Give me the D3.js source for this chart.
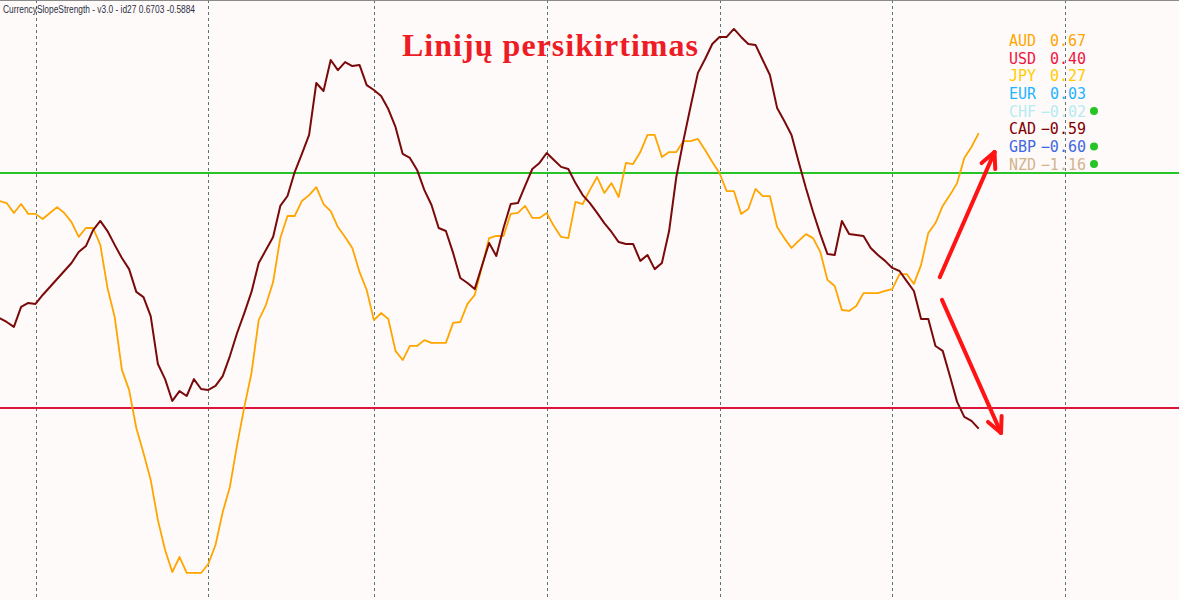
<!DOCTYPE html>
<html>
<head>
<meta charset="utf-8">
<script src="https://cdn.jsdelivr.net/npm/d3@7/dist/d3.min.js"></script>
<style>
html,body{margin:0;padding:0;background:#fffafa;}
svg{display:block;}
</style>
</head>
<body>
<svg id="chart" width="1179" height="600"></svg>
<script>
// ---------- DATA ----------
const headerText = "CurrencySlopeStrength - v3.0 - id27 0.6703 -0.5884";
const titleText = "Linijų persikirtimas";

// bar index of every point (H1 bars)
const bars = d3.range(137);

// AUD strength (orange line)
const aud = [0.381,0.372,0.330,0.368,0.326,0.326,0.304,0.330,0.355,0.330,
0.291,0.228,0.266,0.266,0.194,0.011,-0.113,-0.338,-0.423,-0.585,
-0.691,-0.806,-0.977,-1.104,-1.198,-1.134,-1.202,-1.202,-1.202,-1.164,
-1.083,-0.943,-0.836,-0.657,-0.496,-0.351,-0.126,-0.062,0.036,0.223,
0.317,0.317,0.381,0.406,0.440,0.368,0.338,0.270,0.228,0.181,
0.079,0.002,-0.126,-0.096,-0.121,-0.257,-0.296,-0.236,-0.236,-0.211,
-0.223,-0.223,-0.223,-0.138,-0.134,-0.057,-0.019,0.100,0.223,0.232,
0.232,0.326,0.330,0.360,0.309,0.309,0.330,0.274,0.228,0.223,
0.377,0.368,0.428,0.483,0.415,0.457,0.398,0.543,0.538,0.589,
0.662,0.662,0.568,0.589,0.589,0.636,0.636,0.645,0.598,0.547,
0.500,0.423,0.423,0.326,0.347,0.432,0.402,0.402,0.270,0.223,
0.181,0.211,0.240,0.223,0.164,0.045,0.019,-0.083,-0.087,-0.066,
-0.011,-0.011,-0.011,-0.002,0.006,0.070,0.070,0.028,0.109,0.245,
0.287,0.360,0.406,0.457,0.564,0.611,0.670];

// CAD strength (maroon line)
const cad = [-0.117,-0.134,-0.155,-0.070,-0.053,-0.057,-0.019,0.015,0.049,0.083,
0.117,0.164,0.189,0.257,0.296,0.253,0.194,0.138,0.091,-0.006,
-0.028,-0.109,-0.313,-0.377,-0.470,-0.428,-0.449,-0.377,-0.419,-0.423,
-0.406,-0.364,-0.279,-0.181,-0.096,-0.006,0.117,0.172,0.228,0.360,
0.402,0.504,0.581,0.662,0.883,0.849,0.981,0.938,0.972,0.955,
0.960,0.874,0.853,0.828,0.772,0.696,0.581,0.564,0.513,0.428,
0.364,0.266,0.253,0.160,0.053,0.032,0.006,0.104,0.202,0.147,
0.266,0.368,0.372,0.445,0.517,0.543,0.585,0.555,0.526,0.517,
0.457,0.406,0.372,0.330,0.287,0.249,0.206,0.198,0.198,0.126,
0.151,0.091,0.117,0.253,0.483,0.640,0.785,0.926,0.985,1.049,
1.079,1.079,1.113,1.079,1.049,1.045,0.981,0.917,0.777,0.721,
0.662,0.547,0.436,0.334,0.240,0.155,0.151,0.296,0.240,0.236,
0.232,0.181,0.151,0.126,0.096,0.083,0.040,-0.002,-0.121,-0.121,
-0.236,-0.257,-0.364,-0.474,-0.538,-0.555,-0.588];

// day separators (bar index)
const separators = [5, 29, 52, 76, 100, 124, 148];

// level lines
const levels = [0.5, -0.5];
const levelColors = ["#26c426", "#dc143c"];

// legend
const legendCodes  = ["AUD","USD","JPY","EUR","CHF","CAD","GBP","NZD"];
const legendValues = ["0.67","0.40","0.27","0.03","-0.02","-0.59","-0.60","-1.16"];
const legendColors = ["#ffa500","#ee1540","#ffcc00","#1eb4ff","#b4ecf0","#800000","#4169e1","#d2b48c"];
const legendDots   = [false,false,false,false,true,false,true,true];

// annotation arrows: [fromBar, fromValue, toBar, toValue]
const arrows = [[130.6, 0.057, 138.2, 0.589], [130.9, -0.040, 139.1, -0.606]];

// ---------- DRAW ----------
const W = 1179, H = 600;
const svg = d3.select("#chart");

svg.append("rect").attr("width", W).attr("height", H).attr("fill", "#fffafa");

const x = d3.scaleLinear().domain([0, 136]).range([-0.5, 978.7]);
const y = d3.scaleLinear().domain([-0.5, 0.5]).range([408, 173]);

// separators
svg.append("g").selectAll("line").data(separators).join("line")
  .attr("x1", d => Math.round(x(d)) + 0.5).attr("x2", d => Math.round(x(d)) + 0.5)
  .attr("y1", 0).attr("y2", H)
  .attr("stroke", "#5a7474").attr("stroke-width", 1)
  .attr("stroke-dasharray", "3,3");

// top border
svg.append("line").attr("x1", 0).attr("x2", W).attr("y1", 0.5).attr("y2", 0.5)
  .attr("stroke", "#8a8a8a").attr("stroke-width", 1);

// levels
svg.append("g").selectAll("line").data(levels).join("line")
  .attr("x1", 0).attr("x2", W)
  .attr("y1", d => y(d)).attr("y2", d => y(d))
  .attr("stroke", (d, i) => levelColors[i]).attr("stroke-width", 2);

const line = d3.line().x((d, i) => x(bars[i])).y(d => y(d)).curve(d3.curveLinear);

svg.append("path").datum(aud).attr("d", line)
  .attr("fill", "none").attr("stroke", "#ffa500").attr("stroke-width", 1.8)
  .attr("stroke-linejoin", "round");
svg.append("path").datum(cad).attr("d", line)
  .attr("fill", "none").attr("stroke", "#7a0a0a").attr("stroke-width", 2)
  .attr("stroke-linejoin", "round");

// header
svg.append("text").attr("x", 3).attr("y", 13)
  .attr("font-family", "'Liberation Sans', Arial, sans-serif").attr("font-size", 10)
  .attr("textLength", 192).attr("lengthAdjust", "spacingAndGlyphs")
  .attr("fill", "#2a2f3f").text(headerText);

// title
svg.append("text").attr("x", 402).attr("y", 56)
  .attr("font-family", "'Liberation Serif', 'DejaVu Serif', serif")
  .attr("font-weight", "bold").attr("font-size", 32)
  .attr("textLength", 296).attr("lengthAdjust", "spacing")
  .attr("fill", "#ee1d25").text(titleText);

// legend
const lg = svg.append("g").attr("font-family", "'DejaVu Sans Mono', monospace").attr("font-size", 15);
const rowY = i => 46 + i * 17.65;
lg.selectAll("text.code").data(legendCodes).join("text").attr("class", "code")
  .attr("x", 1009).attr("y", (d, i) => rowY(i))
  .attr("fill", (d, i) => legendColors[i]).text(d => d);
lg.selectAll("text.val").data(legendValues).join("text").attr("class", "val")
  .attr("x", 1086).attr("y", (d, i) => rowY(i)).attr("text-anchor", "end")
  .attr("fill", (d, i) => legendColors[i]).text(d => d.replace("-", "\u2212"));
lg.selectAll("circle").data(legendDots.map((d, i) => [d, i]).filter(d => d[0])).join("circle")
  .attr("cx", 1094).attr("cy", d => rowY(d[1]) - 5.5).attr("r", 4)
  .attr("fill", "#26c426");

// arrows
const ag = svg.append("g").attr("stroke", "#ff1414").attr("stroke-width", 4)
  .attr("stroke-linecap", "round").attr("fill", "none");
arrows.forEach(a => {
  const x1 = x(a[0]), y1 = y(a[1]), x2 = x(a[2]), y2 = y(a[3]);
  ag.append("line").attr("x1", x1).attr("y1", y1).attr("x2", x2).attr("y2", y2);
  const ang = Math.atan2(y1 - y2, x1 - x2);
  const L = 17, spread = 26 * Math.PI / 180;
  [ang - spread, ang + spread].forEach(t => {
    ag.append("line").attr("x1", x2).attr("y1", y2)
      .attr("x2", x2 + L * Math.cos(t)).attr("y2", y2 + L * Math.sin(t));
  });
});
</script>
</body>
</html>
